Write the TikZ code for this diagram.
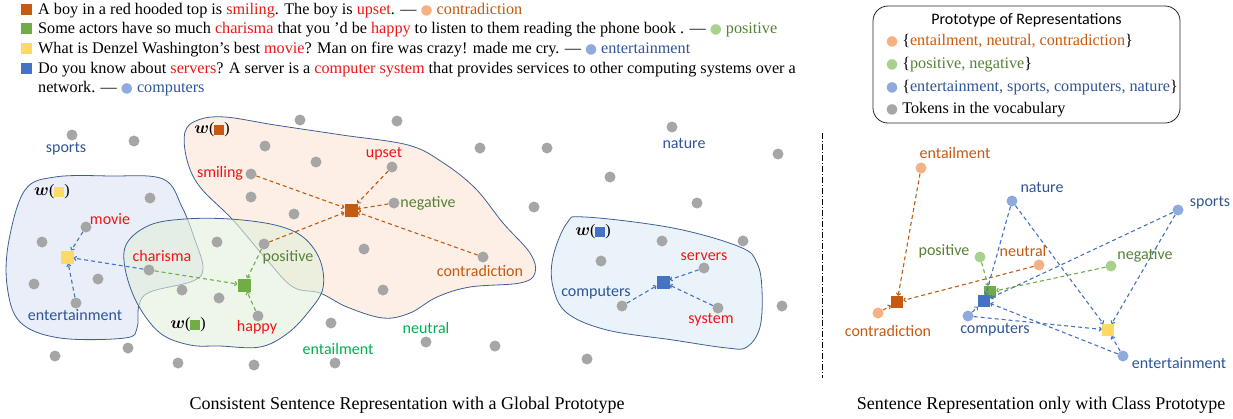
\documentclass[tikz,border=0pt]{standalone}
\usepackage{fontspec}
\usepackage{amsmath}
\setmainfont{Liberation Serif}
\newfontfamily\sansf{Carlito}
\newfontfamily\dejavu{DejaVu Sans}
\usetikzlibrary{arrows.meta}
\definecolor{cOrSq}{HTML}{C55A11}
\definecolor{cGrSq}{HTML}{70AD47}
\definecolor{cYeSq}{HTML}{FFD966}
\definecolor{cBlSq}{HTML}{4472C4}
\definecolor{cOrDot}{HTML}{F4B183}
\definecolor{cGrDot}{HTML}{A9D18E}
\definecolor{cBlDot}{HTML}{8FAADC}
\definecolor{cOrTx}{HTML}{C55A11}
\definecolor{cGrTx}{HTML}{548235}
\definecolor{cBlTx}{HTML}{2F5597}
\definecolor{cBrGr}{HTML}{00B050}
\definecolor{cRed}{HTML}{F01515}
\definecolor{cGray}{HTML}{A6A6A6}
\definecolor{cEdge}{HTML}{3F5F94}
\definecolor{fBl}{HTML}{DAE3F3}
\definecolor{fGr}{HTML}{E2EFDA}
\definecolor{fOr}{HTML}{FBE5D6}
\definecolor{fBl2}{HTML}{DEEBF7}
\newcommand\redw[1]{\textcolor{cRed}{#1}}
\newcommand\legdot[1]{\textcolor{#1}{{\dejavu\scalebox{0.85}{●}}}}
\newcommand\wlab[1]{$\boldsymbol{w}$(\textcolor{#1}{\rule[-0.8pt]{10pt}{10pt}})}
\begin{document}
\begin{tikzpicture}[x=1pt,y=-1pt,
  gdot/.style={circle,fill=cGray,inner sep=0pt,minimum size=11pt},
  cdot/.style={circle,fill=#1,inner sep=0pt,minimum size=11pt},
  sq/.style={rectangle,fill=#1,inner sep=0pt,minimum size=13pt},
  msq/.style={rectangle,fill=#1,inner sep=0pt,minimum size=11pt},
  lab/.style={font=\sansf\fontsize{16}{18}\selectfont,inner sep=0pt,text=#1},
  wl/.style={font=\fontsize{16}{18}\selectfont,inner sep=0pt},
  txt/.style={anchor=base west,inner sep=0pt,font=\fontsize{16.2}{18}\selectfont},
  blob/.style={draw=cEdge,line width=0.8pt,fill=#1,fill opacity=0.6},
  oln/.style={draw=cOrSq,line width=1.1pt,dash pattern=on 4pt off 3pt,-{To[length=3pt,width=5pt]}},
  gln/.style={draw=cGrSq,line width=1.1pt,dash pattern=on 4pt off 3pt,-{To[length=3pt,width=5pt]}},
  bln/.style={draw=cBlSq,line width=1.1pt,dash pattern=on 4pt off 3pt,-{To[length=3pt,width=5pt]}},
  captxt/.style={anchor=base,inner sep=0pt,font=\fontsize{18}{20}\selectfont}
]
\useasboundingbox (0,0) rectangle (1233,418);
% ---------- top sentences ----------
\node[msq=cOrSq] (m1) at (26,9.5) {};
\node[msq=cGrSq] (m2) at (26,28.5) {};
\node[msq=cYeSq] (m3) at (26,48) {};
\node[msq=cBlSq] (m4) at (26,68) {};
\node[txt] (s1) at (38,14) {A boy in a red hooded top is \redw{smiling}. The boy is \redw{upset}. — \legdot{cOrDot} \textcolor{cOrTx}{contradiction}};
\node[txt] (s2) at (38,33.5) {Some actors have so much \redw{charisma} that you 'd be \redw{happy} to listen to them reading the phone book . — \legdot{cGrDot} \textcolor{cGrTx}{positive}};
\node[txt] (s3) at (38,53) {What is Denzel Washington's best \redw{movie}? Man on fire was crazy! made me cry. — \legdot{cBlDot} \textcolor{cBlTx}{entertainment}};
\node[txt] (s4) at (38,73) {Do you know about \redw{servers}? A server is a \redw{computer system} that provides services to other computing systems over a};
\node[txt] (s5) at (38,92.5) {network. — \legdot{cBlDot} \textcolor{cBlTx}{computers}};
% ---------- legend ----------
\node[draw=black!85,line width=0.8pt,rounded corners=15pt,minimum width=307pt,minimum height=117pt,inner sep=0pt] (leg) at (1026.5,64.5) {};
\node[inner sep=0pt,font=\sansf\fontsize{16}{18}\selectfont] (legt) at (1026.5,20) {Prototype of Representations};
\node[txt] (l1) at (886,45) {\legdot{cOrDot} \{\textcolor{cOrTx}{entailment, neutral, contradiction}\}};
\node[txt] (l2) at (886,68) {\legdot{cGrDot} \{\textcolor{cGrTx}{positive, negative}\}};
\node[txt] (l3) at (886,91.5) {\legdot{cBlDot} \{\textcolor{cBlTx}{entertainment, sports, computers, nature}\}};
\node[txt] (l4) at (886,113) {\legdot{cGray} Tokens in the vocabulary};
% ---------- blobs ----------
\path[blob=fBl] plot[smooth cycle,tension=0.6] coordinates {(25,190) (55,177) (110,176) (163,179) (182,207) (195,240) (203,268) (193,281) (150,292) (139,305) (137,328) (125,338) (60,338) (20,322) (7,285) (9,240)};
\path[blob=fOr] plot[smooth cycle,tension=0.6] coordinates {(185,132) (198,120) (225,117) (275,125) (342,135) (408,145) (442,162) (475,188) (503,223) (530,253) (535,273) (520,283) (470,287) (437,297) (410,313) (383,318) (347,307) (320,293) (293,287) (267,260) (233,220) (200,187) (187,160)};
\path[blob=fGr] plot[smooth cycle,tension=0.6] coordinates {(127,243) (150,225) (185,219) (230,219) (275,225) (303,237) (320,260) (323,288) (310,310) (288,333) (260,347) (220,346) (190,345) (160,333) (137,303) (125,268)};
\path[blob=fBl2] plot[smooth cycle,tension=0.6] coordinates {(567,223) (585,217) (673,228) (740,247) (757,263) (762,290) (760,327) (747,347) (727,348) (673,340) (607,330) (567,313) (553,287) (553,257)};
% ---------- gray tokens ----------
\foreach \px/\py [count=\i] in {72/135,134/141,300/120,397/121,265/146,316/162,480/148,547/148,251/197,294/214,534/207,150/198,42/242,34/284,98/279,217/242,364/249,182/290,219/298,383/290,331/323,426/342,495/346,55/356,128/348,178/363,254/365,335/363,672/127,778/154,610/177,697/203,662/241,743/241,601/261,782/306,587/359}
  \node[gdot] (t\i) at (\px,\py) {};
\node[gdot] (dsmil) at (251,174) {};
\node[gdot] (dups) at (392,167) {};
\node[gdot] (dneg) at (394,203) {};
\node[gdot] (dpos) at (264,244) {};
\node[gdot] (dcon) at (483,257) {};
\node[gdot] (dmov) at (86,227) {};
\node[gdot] (dent) at (76,303) {};
\node[gdot] (dcha) at (149,270) {};
\node[gdot] (dhap) at (258,316) {};
\node[gdot] (dser) at (704,268) {};
\node[gdot] (dcom) at (622,306) {};
\node[gdot] (dsys) at (718,308) {};
% ---------- sentence squares ----------
\node[sq=cYeSq] (ysq) at (67,257) {};
\node[sq=cGrSq] (gsq) at (244,285) {};
\node[sq=cOrSq] (osq) at (351,210) {};
\node[sq=cBlSq] (bsq) at (663,282) {};
% ---------- connectors (left) ----------
\draw[oln] (dsmil) -- (osq);
\draw[oln] (dups) -- (osq);
\draw[oln] (dneg) -- (osq);
\draw[oln] (dcon) -- (osq);
\draw[oln] (dpos) -- (osq);
\draw[gln] (dpos) -- (gsq);
\draw[gln] (dcha) -- (gsq);
\draw[gln] (dhap) -- (gsq);
\draw[bln] (dmov) -- (ysq);
\draw[bln] (dent) -- (ysq);
\draw[bln] (dcha) -- (ysq);
\draw[bln] (dser) -- (bsq);
\draw[bln] (dcom) -- (bsq);
\draw[bln] (dsys) -- (bsq);
% ---------- labels (left) ----------
\node[lab=cBlTx] (lsports) at (66,149) {sports};
\node[lab=cBlTx] (lnature) at (684,143) {nature};
\node[wl] (wy) at (52,192) {\wlab{cYeSq}};
\node[wl] (wo) at (212,130) {\wlab{cOrSq}};
\node[wl] (wg) at (188,325) {\wlab{cGrSq}};
\node[wl] (wb) at (593,232) {\wlab{cBlSq}};
\node[lab=cRed] (lmov) at (110,219) {movie};
\node[lab=cRed] (lcha) at (162,256) {charisma};
\node[lab=cGrTx] (lpos) at (288,257) {positive};
\node[lab=cBlTx] (lent) at (75,315) {entertainment};
\node[lab=cRed] (lhap) at (257,327) {happy};
\node[lab=cRed] (lsmil) at (220,173) {smiling};
\node[lab=cRed] (lups) at (384,154) {upset};
\node[lab=cGrTx] (lneg) at (428,203) {negative};
\node[lab=cOrTx] (lcon) at (480,271) {contradiction};
\node[lab=cBrGr] (lneu) at (426,328) {neutral};
\node[lab=cBrGr] (lentl) at (338,349) {entailment};
\node[lab=cRed] (lser) at (704,257) {servers};
\node[lab=cBlTx] (lcom) at (596,293) {computers};
\node[lab=cRed] (lsys) at (711,320) {system};
% ---------- separator ----------
\coordinate (sepa) at (822,133);
\coordinate (sepb) at (822,378);
\draw[line width=0.8pt,dash pattern=on 6pt off 2pt on 1pt off 2pt] (sepa) -- (sepb);
% ---------- right panel ----------
\node[cdot=cOrDot] (rentl) at (921,168) {};
\node[cdot=cBlDot] (rnat) at (1012,201) {};
\node[cdot=cBlDot] (rspo) at (1178,210) {};
\node[cdot=cGrDot] (rpos) at (980,257) {};
\node[cdot=cOrDot] (rneu) at (1039,265) {};
\node[cdot=cGrDot] (rneg) at (1111,266) {};
\node[cdot=cOrDot] (rcon) at (878,313) {};
\node[cdot=cBlDot] (rcom) at (968,316) {};
\node[cdot=cBlDot] (rent) at (1123,356) {};
\node[sq=cOrSq,minimum size=12pt] (rosq) at (897,302) {};
\node[sq=cGrSq,minimum size=12pt] (rgsq) at (990,292) {};
\node[sq=cBlSq,minimum size=12pt] (rbsq) at (984,301) {};
\node[sq=cYeSq,minimum size=12pt] (rysq) at (1108,330) {};
\draw[oln] (rentl) -- (rosq);
\draw[oln] (rcon) -- (rosq);
\draw[oln] (rneu) -- (rosq);
\draw[gln] (rpos) -- (rgsq);
\draw[gln] (rneg) -- (rgsq);
\draw[bln] (rnat) -- (rbsq);
\draw[bln] (rspo) -- (rbsq);
\draw[bln] (rcom) -- (rbsq);
\draw[bln] (rent) -- (rbsq);
\draw[bln] (rnat) -- (rysq);
\draw[bln] (rspo) -- (rysq);
\draw[bln] (rcom) -- (rysq);
\draw[bln] (rent) -- (rysq);
\node[lab=cOrTx] (lrentl) at (955,153) {entailment};
\node[lab=cBlTx] (lrnat) at (1042,187) {nature};
\node[lab=cBlTx] (lrspo) at (1210,203) {sports};
\node[lab=cGrTx] (lrpos) at (944,251) {positive};
\node[lab=cOrTx] (lrneu) at (1023,251) {neutral};
\node[lab=cGrTx] (lrneg) at (1145,255) {negative};
\node[lab=cOrTx] (lrcon) at (888,331) {contradiction};
\node[lab=cBlTx] (lrcom) at (995,330) {computers};
\node[lab=cBlTx] (lrent) at (1179,363) {entertainment};
% ---------- captions ----------
\node[captxt] (cap1) at (407,409) {Consistent Sentence Representation with a Global Prototype};
\node[captxt] (cap2) at (1041,409) {Sentence Representation only with Class Prototype};
\end{tikzpicture}
\end{document}
